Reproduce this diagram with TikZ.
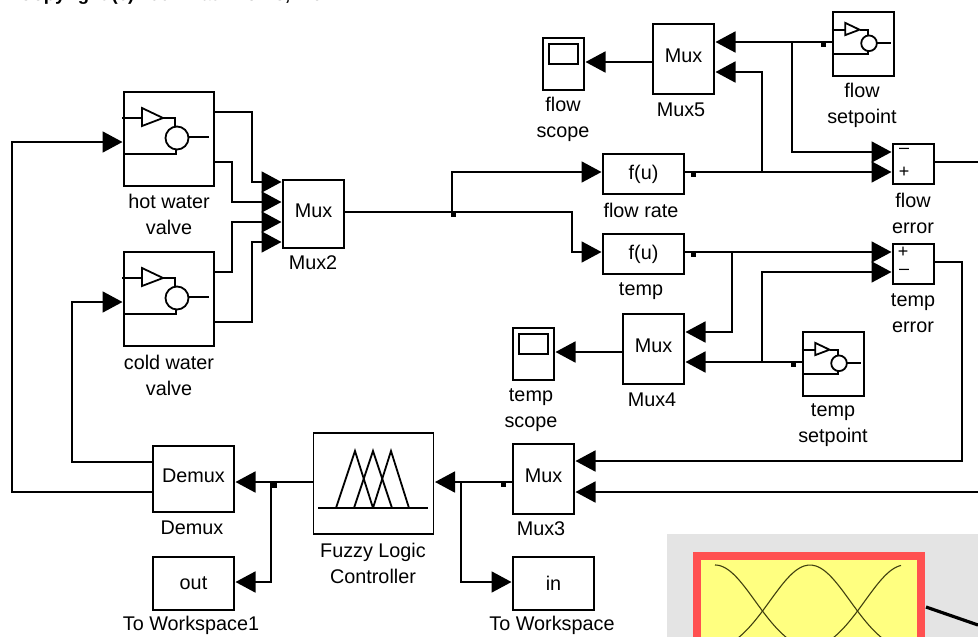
\documentclass[tikz,border=0pt]{standalone}
\usepackage{fontspec}
\setmainfont{Liberation Sans}
\usetikzlibrary{arrows.meta}
\definecolor{fisgray}{HTML}{E4E4E4}
\definecolor{fisred}{HTML}{FF5050}
\definecolor{fisyellow}{HTML}{FFFF80}
\definecolor{fiscurve}{HTML}{404010}
\tikzset{
    block/.style={draw,line width=1.7pt,inner sep=0pt,outer sep=0pt,font=\fontsize{19.8}{20}\selectfont},
    muxblk/.style={block,minimum width=61pt,minimum height=70pt,text depth=6pt},
    valveblk/.style={block,minimum width=90pt,minimum height=94pt},
    setblk/.style={block,minimum width=61pt,minimum height=64pt},
    scopeblk/.style={block,minimum width=41pt,minimum height=52pt},
    fcnblk/.style={block,minimum width=81pt,minimum height=40pt},
    sumblk/.style={block,minimum width=41pt,minimum height=40pt},
    wsblk/.style={block,minimum width=81pt,minimum height=53pt},
    lbl/.style={inner sep=0pt,align=center,font=\fontsize{19.8}{26}\selectfont},
    sign/.style={inner sep=0pt,font=\fontsize{18}{18}\selectfont},
    sig/.style={line width=1.8pt,shorten >=1.5pt,-{Triangle[length=20pt,width=21pt]}},
    wire/.style={line width=1.8pt},
    pics/valve/.style={code={
        \draw[wire] (18,16) -- (18,34) -- (39,26) -- cycle;
        \draw[wire] (-2,26) -- (18,26);
        \draw[wire] (39,26) -- (51,26) -- (51,34);
        \draw[wire] (53,46) circle (11.5);
        \draw[wire] (64.5,45) -- (85,45);
        \draw[wire] (0,62) -- (52,62) -- (52,57);
    }},
    pics/scopescreen/.style={code={
        \draw[wire] (6,6) rectangle (35,26);
    }}
}
\begin{document}
\begin{tikzpicture}[x=1pt,y=-1pt]
    \useasboundingbox (0,0) rectangle (978,637);
    \node[anchor=base west,inner sep=0pt,font=\fontsize{18.5}{18.5}\selectfont\bfseries] (copyrightline) at (19,0.5) {Copyright (c) 1994 MathWorks, Inc.};

    % Blocks
    \node[valveblk] (hotvalve) at (169,139) {};
    \node[valveblk] (coldvalve) at (169,299) {};
    \node[muxblk,minimum height=68pt] (mux2) at (313.5,214) {Mux};
    \node[fcnblk] (flowrate) at (643.5,174) {f(u)};
    \node[fcnblk] (tempfcn) at (643.5,254) {f(u)};
    \node[muxblk] (mux5) at (683.5,59) {Mux};
    \node[muxblk] (mux4) at (653.5,349) {Mux};
    \node[muxblk] (mux3) at (543.5,479) {Mux};
    \node[scopeblk] (flowscope) at (563.5,64) {};
    \node[scopeblk] (tempscope) at (533.5,354) {};
    \node[setblk] (flowset) at (863.5,44) {};
    \node[setblk] (tempset) at (833.5,364) {};
    \node[sumblk] (flowerr) at (913.5,164) {};
    \node[sumblk] (temperr) at (913.5,264) {};
    \node[block,minimum width=81pt,minimum height=66pt,text depth=6pt] (demux) at (193.5,479) {Demux};
    \node[block,minimum width=120pt,minimum height=101pt] (fuzzy) at (373.5,483.5) {};
    \node[wsblk] (outws) at (193.5,583.5) {out};
    \node[wsblk] (inws) at (553.5,583.5) {in};

    % Block icons
    \pic at (hotvalve.north west) {valve};
    \pic at (coldvalve.north west) {valve};
    \pic[scale=0.68] at (flowset.north west) {valve};
    \pic[scale=0.68] at (tempset.north west) {valve};
    \pic at (flowscope.north west) {scopescreen};
    \pic at (tempscope.north west) {scopescreen};
    \draw[wire] (318,508) -- (428,508);
    \foreach \a/\b/\c in {336/355/373, 354/373/392, 373/391/409}
        \draw[wire] (\a,508) -- (\b,451) -- (\c,508);
    \node[sign] (flowminus) at (904,151) {--};
    \node[sign] (flowplus) at (904,172) {+};
    \node[sign] (tempplus) at (903,252) {+};
    \node[sign] (tempminus) at (904,272) {--};

    % Valves to Mux2
    \draw[sig] (hotvalve.east |- 0,112) -| (252,182) -- (mux2.west |- 0,182);
    \draw[sig] (hotvalve.east |- 0,162) -| (232,202) -- (mux2.west |- 0,202);
    \draw[sig] (coldvalve.east |- 0,272) -| (232,222) -- (mux2.west |- 0,222);
    \draw[sig] (coldvalve.east |- 0,322) -| (252,242) -- (mux2.west |- 0,242);
    % Mux2 to the two functions
    \draw[wire] (mux2.east |- 0,212) -- (452,212);
    \draw[sig] (452,212) |- (flowrate.west |- 0,172);
    \draw[sig] (452,212) -| (572,252) -- (tempfcn.west |- 0,252);
    % Flow branch
    \draw[sig] (flowrate.east |- 0,172) -- (flowerr.west |- 0,172);
    \draw[sig] (762,172) |- (mux5.east |- 0,72);
    \draw[sig] (flowset.west |- 0,42) -- (mux5.east |- 0,42);
    \draw[sig] (792,42) |- (flowerr.west |- 0,152);
    \draw[sig] (mux5.west |- 0,62) -- (flowscope.east |- 0,62);
    % Temp branch
    \draw[sig] (tempfcn.east |- 0,252) -- (temperr.west |- 0,252);
    \draw[sig] (732,252) |- (mux4.east |- 0,332);
    \draw[sig] (tempset.west |- 0,362) -- (mux4.east |- 0,362);
    \draw[sig] (762,362) |- (temperr.west |- 0,272);
    \draw[sig] (mux4.west |- 0,352) -- (tempscope.east |- 0,352);
    % Errors to Mux3
    \coordinate (flowexit) at (978,162);
    \coordinate (muxexit) at (978,492);
    \draw[wire] (flowerr.east |- 0,162) -- (flowexit);
    \draw[sig] (temperr.east |- 0,262) -| (962,461) -- (mux3.east |- 0,461);
    \draw[sig] (muxexit) -- (mux3.east |- 0,492);
    % Controller loop
    \draw[sig] (mux3.west |- 0,482) -- (fuzzy.east |- 0,482);
    \draw[sig] (461,482) |- (inws.west |- 0,582);
    \draw[sig] (fuzzy.west |- 0,482) -- (demux.east |- 0,482);
    \draw[sig] (271,482) |- (outws.east |- 0,582);
    \draw[sig] (demux.west |- 0,462) -| (72,302) -- (coldvalve.west |- 0,302);
    \draw[sig] (demux.west |- 0,492) -| (12,142) -- (hotvalve.west |- 0,142);

    % Branch marks
    \foreach \x/\y in {453/214, 693/174, 823/44, 693/254, 793/364, 503/484, 274/485}
        \fill (\x-2.5,\y-2.5) rectangle ++(5,5);

    % Labels
    \node[lbl] (hotlabel) at (169,214) {hot water\\valve};
    \node[lbl] (coldlabel) at (169,375) {cold water\\valve};
    \node[lbl] (mux2label) at (313,263) {Mux2};
    \node[lbl] (flowscopelabel) at (563,119) {flow\\scope};
    \node[lbl] (mux5label) at (681,110) {Mux5};
    \node[lbl] (flowsetlabel) at (862,105) {flow\\setpoint};
    \node[lbl] (flowratelabel) at (641,210) {flow rate};
    \node[lbl] (flowerrlabel) at (913,213) {flow\\error};
    \node[lbl] (templabel) at (641,291) {temp};
    \node[lbl] (temperrlabel) at (913,313) {temp\\error};
    \node[lbl] (tempscopelabel) at (531,410) {temp\\scope};
    \node[lbl] (mux4label) at (652,400) {Mux4};
    \node[lbl] (tempsetlabel) at (833,425) {temp\\setpoint};
    \node[lbl] (demuxlabel) at (192,528) {Demux};
    \node[lbl] (fuzzylabel) at (373,563) {Fuzzy Logic\\Controller};
    \node[lbl] (mux3label) at (541,529) {Mux3};
    \node[lbl] (outwslabel) at (191,625) {To Workspace1};
    \node[lbl] (inwslabel) at (552,625) {To Workspace};

    % Membership function window
    \fill[fisgray] (667,534) rectangle (978,637);
    \filldraw[fill=fisyellow,draw=fisred,line width=8pt] (697,556) rectangle (921,660);
    \foreach \c/\a/\b in {715/715/800, 810/730/890, 905/820/901}
        \draw[fiscurve,line width=1.1pt] plot[smooth,domain=\a:\b,samples=40] (\x,{565+91*(1-exp(-0.5*((\x-\c)/40)^2))});
    \coordinate (fisexit) at (978,625);
    \draw[line width=3.2pt] (926,607) -- (fisexit);
\end{tikzpicture}
\end{document}
